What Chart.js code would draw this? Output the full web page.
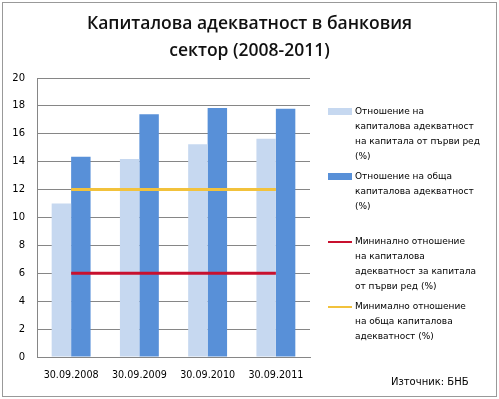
<!DOCTYPE html>
<html>
<head>
<meta charset="utf-8">
<script src="https://cdn.jsdelivr.net/npm/chart.js@4.4.0/dist/chart.umd.min.js"></script>
<style>
  html, body { margin: 0; padding: 0; background: #fff; }
  #wrap { position: relative; width: 499px; height: 399px; overflow: hidden; }
  #frame { position: absolute; left: 2px; top: 2px; width: 493px; height: 393px; border: 1px solid #999; box-sizing: content-box; }
  #title { position: absolute; left: 0; top: 9px; width: 499px; text-align: center;
           font-family: "Open Sans", "Noto Sans", sans-serif; font-size: 17.5px; font-weight: 600; line-height: 27px; color: #111; }
  #legend { position: absolute; left: 328px; top: 104px; font-family: "DejaVu Sans", sans-serif; font-size: 9px; color: #000; }
  .item { position: absolute; left: 0; width: 160px; }
  .sw { position: absolute; left: 0; width: 24px; }
  .txt { position: absolute; left: 27px; line-height: 15px; white-space: nowrap; }
  #source { position: absolute; left: 391px; top: 376px; font-family: "DejaVu Sans", sans-serif; font-size: 10px; color: #000; }
  canvas { position: absolute; left: 0; top: 0; }
</style>
</head>
<body>
<div id="wrap">
  <canvas id="chart" width="499" height="399"></canvas>
  <div id="frame"></div>
  <div id="title">Капиталова адекватност в банковия<br>сектор (2008-2011)</div>
  <div id="legend"></div>
  <div id="source">Източник: БНБ</div>
</div>
<script>
// data
const categories = ["30.09.2008", "30.09.2009", "30.09.2010", "30.09.2011"];
const tier1Ratio = [11.0, 14.2, 15.25, 15.65];
const totalRatio = [14.35, 17.4, 17.85, 17.8];
const minTier1 = [6, 6, 6, 6];
const minTotal = [12, 12, 12, 12];
const yTicks = [0, 2, 4, 6, 8, 10, 12, 14, 16, 18, 20];

const seriesNames = [
    ["Отношение на", "капиталова адекватност", "на капитала от първи ред", "(%)"],
    ["Отношение на обща", "капиталова адекватност", "(%)"],
    ["Мининално отношение", "на капиталова", "адекватност за капитала", "от първи ред (%)"],
    ["Минимално отношение", "на обща капиталова", "адекватност (%)"]
];
const colors = ["#c6d8f0", "#5890d8", "#c8102e", "#f2c23c"];

const ctx = document.getElementById("chart").getContext("2d");

new Chart(ctx, {
    data: {
        labels: categories,
        datasets: [
            { type: "bar", data: tier1Ratio, backgroundColor: colors[0], order: 2 },
            { type: "bar", data: totalRatio, backgroundColor: colors[1], order: 2 },
            { type: "line", data: minTier1, borderColor: colors[2], borderWidth: 3, pointRadius: 0, order: 0 },
            { type: "line", data: minTotal, borderColor: colors[3], borderWidth: 3, pointRadius: 0, order: 0 }
        ]
    },
    options: {
        responsive: false,
        animation: false,
        datasets: { bar: { categoryPercentage: 0.57, barPercentage: 1 } },
        layout: { padding: { left: 0, top: 78, right: 189, bottom: 0 } },
        plugins: { legend: { display: false }, tooltip: { enabled: false } },
        scales: {
            x: {
                afterFit: (s) => { s.height = 42; },
                grid: { display: false, drawTicks: false },
                border: { color: "#868686" },
                ticks: { padding: 13, color: "#000", font: { family: "DejaVu Sans", size: 9.6 }, maxRotation: 0 }
            },
            y: {
                min: 0, max: 20,
                afterFit: (s) => { s.width = 37; },
                afterBuildTicks: (s) => { s.ticks = yTicks.map(v => ({ value: v })); },
                grid: { color: "#868686", drawTicks: false },
                border: { color: "#868686" },
                ticks: { padding: 12, color: "#000", font: { family: "DejaVu Sans", size: 10 } }
            }
        }
    }
});

// legend on the right
const legend = document.getElementById("legend");
const tops = [0, 65, 130, 195];
seriesNames.forEach((lines, i) => {
    const item = document.createElement("div");
    item.className = "item";
    item.style.top = tops[i] + "px";
    const sw = document.createElement("div");
    sw.className = "sw";
    if (i < 2) { sw.style.top = "4px"; sw.style.height = "7px"; }
    else { sw.style.top = "7px"; sw.style.height = "2px"; }
    sw.style.background = colors[i];
    const txt = document.createElement("div");
    txt.className = "txt";
    txt.style.top = "0px";
    txt.innerHTML = lines.join("<br>");
    item.appendChild(sw);
    item.appendChild(txt);
    legend.appendChild(item);
});
</script>
</body>
</html>
